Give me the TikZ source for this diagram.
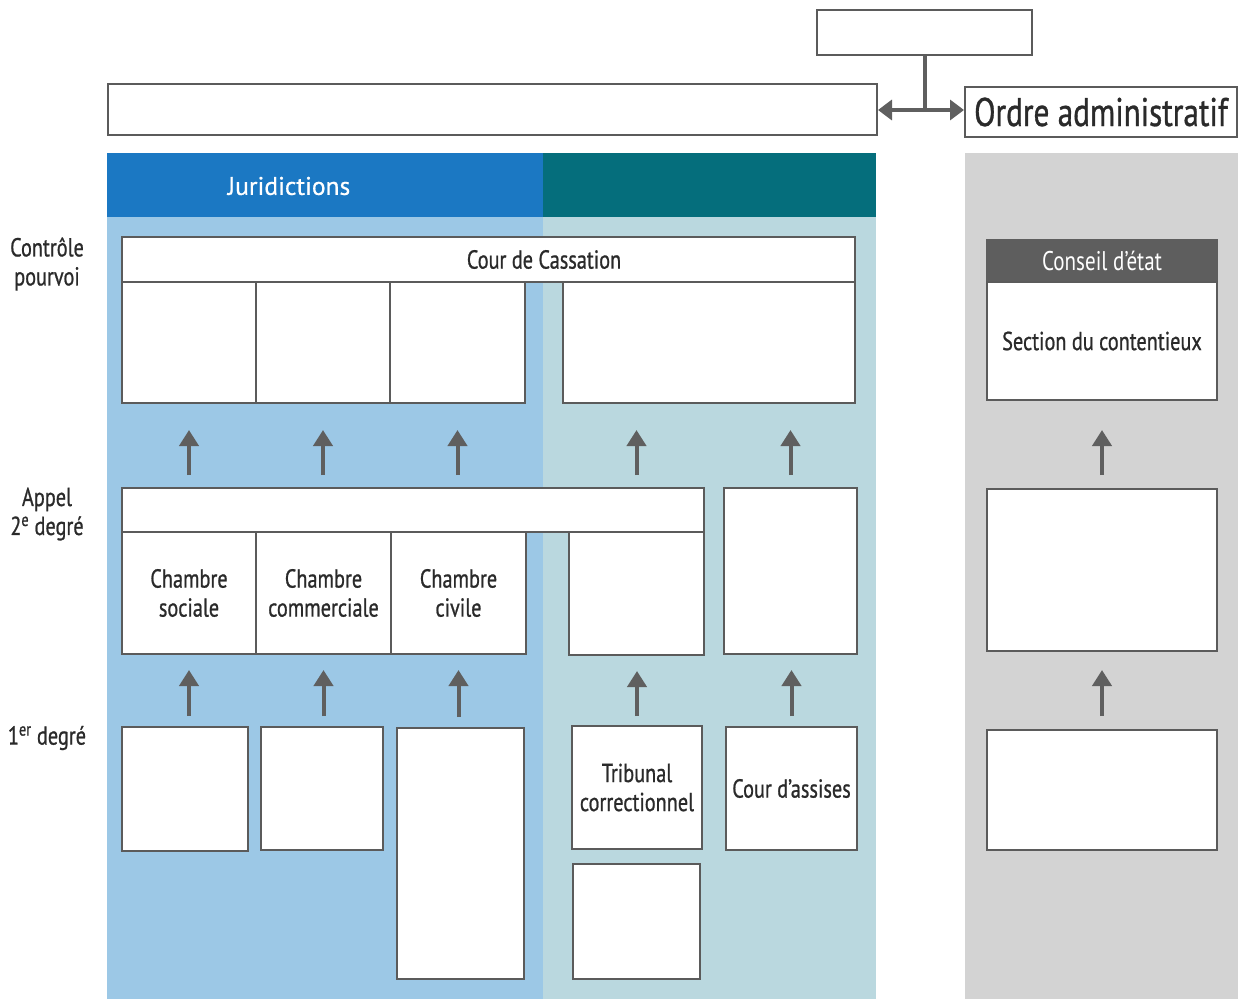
\documentclass[tikz,border=0pt]{standalone}
\usepackage{fontspec}
\setmainfont{PT Sans}
\newfontfamily\condf[FakeStretch=0.78,FakeBold=0.8]{PT Sans}
\newfontfamily\condl[FakeStretch=0.78]{PT Sans}
\newfontfamily\jurf[FakeBold=0.6]{PT Sans}
\usetikzlibrary{arrows.meta}
\definecolor{bordc}{HTML}{5B5B5B}
\definecolor{arrc}{HTML}{5F5F5F}
\definecolor{bluehd}{HTML}{1B78C3}
\definecolor{tealhd}{HTML}{056E7C}
\definecolor{bluebg}{HTML}{9CC8E6}
\definecolor{tealbg}{HTML}{BAD8DF}
\definecolor{graybg}{HTML}{D3D3D3}
\definecolor{grayhd}{HTML}{5E5E5E}
\definecolor{txtc}{HTML}{2A2A2A}
\tikzset{
  box/.style={draw=bordc, fill=white, line width=2pt, anchor=north west, inner sep=0pt,
    align=center, text=txtc, font=\condf\fontsize{26}{29}\selectfont},
  arr/.style={draw=arrc, line width=4pt, -{Triangle[width=19pt,length=16pt]}},
  lbl/.style={align=center, text=txtc, font=\condf\fontsize{26}{29}\selectfont},
}
\begin{document}
\begin{tikzpicture}[x=1pt,y=-1pt]
\useasboundingbox (0,0) rectangle (1243,999);
% panels
\fill[bluebg] (107,153) rectangle (543,999);
\fill[tealbg] (543,153) rectangle (876,999);
\fill[graybg] (965,153) rectangle (1238,999);
\fill[bluehd] (107,153) rectangle (543,217);
\fill[tealhd] (543,153) rectangle (876,217);
\node[text=white, font=\jurf\fontsize{25.5}{28}\selectfont] (jur) at (289,186) {Juridictions};

% top boxes
\node[box, minimum width=215pt, minimum height=45pt] (top) at (816,9) {};
\node[box, minimum width=769pt, minimum height=51pt] (wide) at (107,83) {};
\node[box, minimum width=272pt, minimum height=50pt, font=\condf\fontsize{40}{44}\selectfont] (ordre) at (964,86) {Ordre administratif};
\coordinate (j) at (922,110);
\draw[draw=arrc, line width=4pt] (top.south) -- (top.south |- j);
\draw[draw=arrc, line width=4pt, {Triangle[width=20pt,length=14pt]}-{Triangle[width=20pt,length=14pt]}] (wide.east |- j) -- (ordre.west |- j);

% left labels
\node[lbl] (l1) at (47,264) {Contrôle\\pourvoi};
\node[lbl] (l2) at (47,514) {Appel\\2\textsuperscript{e} degré};
\node[lbl] (l3) at (47,738) {1\textsuperscript{er} degré};

% Cassation row
\node[box, minimum width=733pt, minimum height=45pt,
  label={[text=txtc, font=\condf\fontsize{26}{29}\selectfont, xshift=55.5pt]center:Cour de Cassation}] (cass) at (121,236) {};
\node[box, minimum width=134pt, minimum height=121pt] (cs1) at (121,281) {};
\node[box, minimum width=134pt, minimum height=121pt] (cs2) at (255,281) {};
\node[box, minimum width=135pt, minimum height=121pt] (cs3) at (389,281) {};
\node[box, minimum width=292pt, minimum height=121pt] (cs4) at (562,281) {};

% Appel row
\node[box, minimum width=582pt, minimum height=44pt] (app) at (121,487) {};
\node[box, minimum width=134pt, minimum height=122pt] (ch1) at (121,531) {Chambre\\sociale};
\node[box, minimum width=135pt, minimum height=122pt] (ch2) at (255,531) {Chambre\\commerciale};
\node[box, minimum width=135pt, minimum height=122pt] (ch3) at (390,531) {Chambre\\civile};
\node[box, minimum width=135pt, minimum height=123pt] (ch4) at (568,531) {};
\node[box, minimum width=133pt, minimum height=166pt] (ch5) at (723,487) {};

% 1er degre row
\node[box, minimum width=126pt, minimum height=124pt] (t1) at (121,726) {};
\node[box, minimum width=122pt, minimum height=123pt] (t2) at (260,726) {};
\node[box, minimum width=127pt, minimum height=251pt] (t3) at (396,727) {};
\node[box, minimum width=130pt, minimum height=123pt] (t4) at (571,725) {Tribunal\\correctionnel};
\node[box, minimum width=131pt, minimum height=123pt] (t5) at (725,726) {Cour d’assises};
\node[box, minimum width=127pt, minimum height=115pt] (t6) at (572,863) {};

% administrative side
\node[box, minimum width=230pt, minimum height=42pt, fill=grayhd, draw=grayhd, text=white, font=\condl\fontsize{27}{30}\selectfont] (ce) at (986,239) {Conseil d’état};
\node[box, minimum width=230pt, minimum height=118pt] (sc) at (986,281) {Section du contentieux};
\node[box, minimum width=230pt, minimum height=162pt] (a2) at (986,488) {};
\node[box, minimum width=230pt, minimum height=120pt] (a1) at (986,729) {};

% arrows row 1
\draw[arr, shorten <=12pt, shorten >=26pt] (cs1.south |- app.north) -- (cs1.south);
\draw[arr, shorten <=12pt, shorten >=26pt] (cs2.south |- app.north) -- (cs2.south);
\draw[arr, shorten <=12pt, shorten >=26pt] (cs3.south |- app.north) -- (cs3.south);
\draw[arr, shorten <=12pt, shorten >=26pt] (app.north -| ch4.north) -- (ch4.north |- cs4.south);
\draw[arr, shorten <=12pt, shorten >=26pt] (ch5.north) -- (ch5.north |- cs4.south);
\draw[arr, shorten <=13pt, shorten >=29pt] (a2.north) -- (sc.south);

% arrows row 2
\draw[arr, shorten <=10pt, shorten >=15pt] (ch1.south |- t1.north) -- (ch1.south);
\draw[arr, shorten <=10pt, shorten >=15pt] (ch2.south |- t2.north) -- (ch2.south);
\draw[arr, shorten <=10pt, shorten >=15pt] (ch3.south |- t3.north) -- (ch3.south);
\draw[arr, shorten <=9pt, shorten >=15pt] (t4.north) -- (t4.north |- ch4.south);
\draw[arr, shorten <=10pt, shorten >=15pt] (t5.north) -- (t5.north |- ch5.south);
\draw[arr, shorten <=13pt, shorten >=18pt] (a1.north) -- (a2.south);
\end{tikzpicture}
\end{document}
